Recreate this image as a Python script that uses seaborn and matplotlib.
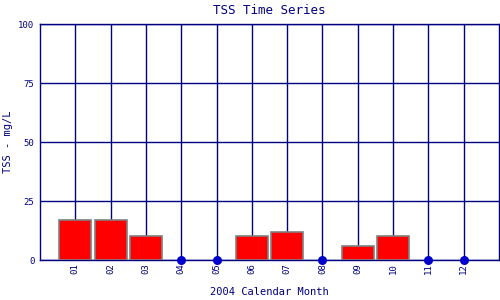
import matplotlib
matplotlib.use("Agg")
import matplotlib.pyplot as plt
import seaborn as sns
import pandas as pd

months = ["01", "02", "03", "04", "05", "06", "07", "08", "09", "10", "11", "12"]
tss = [17, 17, 10, 0, 0, 10, 12, 0, 6, 10, 0, 0]

df = pd.DataFrame({"month": months, "tss": tss})
bars = df[df.tss > 0]
zeros = df[df.tss == 0]

sns.set_style("white")
plt.rcParams["font.family"] = ["DejaVu Sans Mono", "DejaVu Sans"]
navy = "#000080"

fig = plt.figure(figsize=(5, 3), dpi=100)
ax = fig.add_axes([0.08, 0.1333, 0.918, 0.7867])

sns.barplot(data=bars, x="month", y="tss", order=months, color="#ff0000",
            edgecolor="#808080", linewidth=1.2, width=0.9, saturation=1, ax=ax, zorder=3)
sns.stripplot(data=zeros, x="month", y="tss", order=months, jitter=False,
              color="#0000cc", size=6.5, linewidth=0, ax=ax, zorder=4, clip_on=False)

ax.set_axisbelow(True)
ax.xaxis.grid(True, color=navy, linewidth=1.0)
ax.yaxis.grid(True, color=navy, linewidth=1.0)

ax.set_xlim(-1, 12)
ax.set_ylim(0, 100)
ax.set_yticks([0, 25, 50, 75, 100])
ax.set_yticklabels(["0", "25", "50", "75", "100"])
ax.tick_params(axis="both", length=0, labelsize=6.5, colors=navy, pad=4)
ax.tick_params(axis="x", rotation=90, pad=2)
for s in ax.spines.values():
    s.set_color(navy)
    s.set_linewidth(1.0)

ax.set_title("TSS Time Series", color=navy, fontsize=9, pad=7)
ax.set_xlabel("2004 Calendar Month", color=navy, fontsize=7.5, labelpad=10)
ax.set_ylabel("TSS - mg/L", color=navy, fontsize=7.5)
ax.yaxis.set_label_coords(-0.058, 0.5)

fig.savefig("out.png", dpi=100)
